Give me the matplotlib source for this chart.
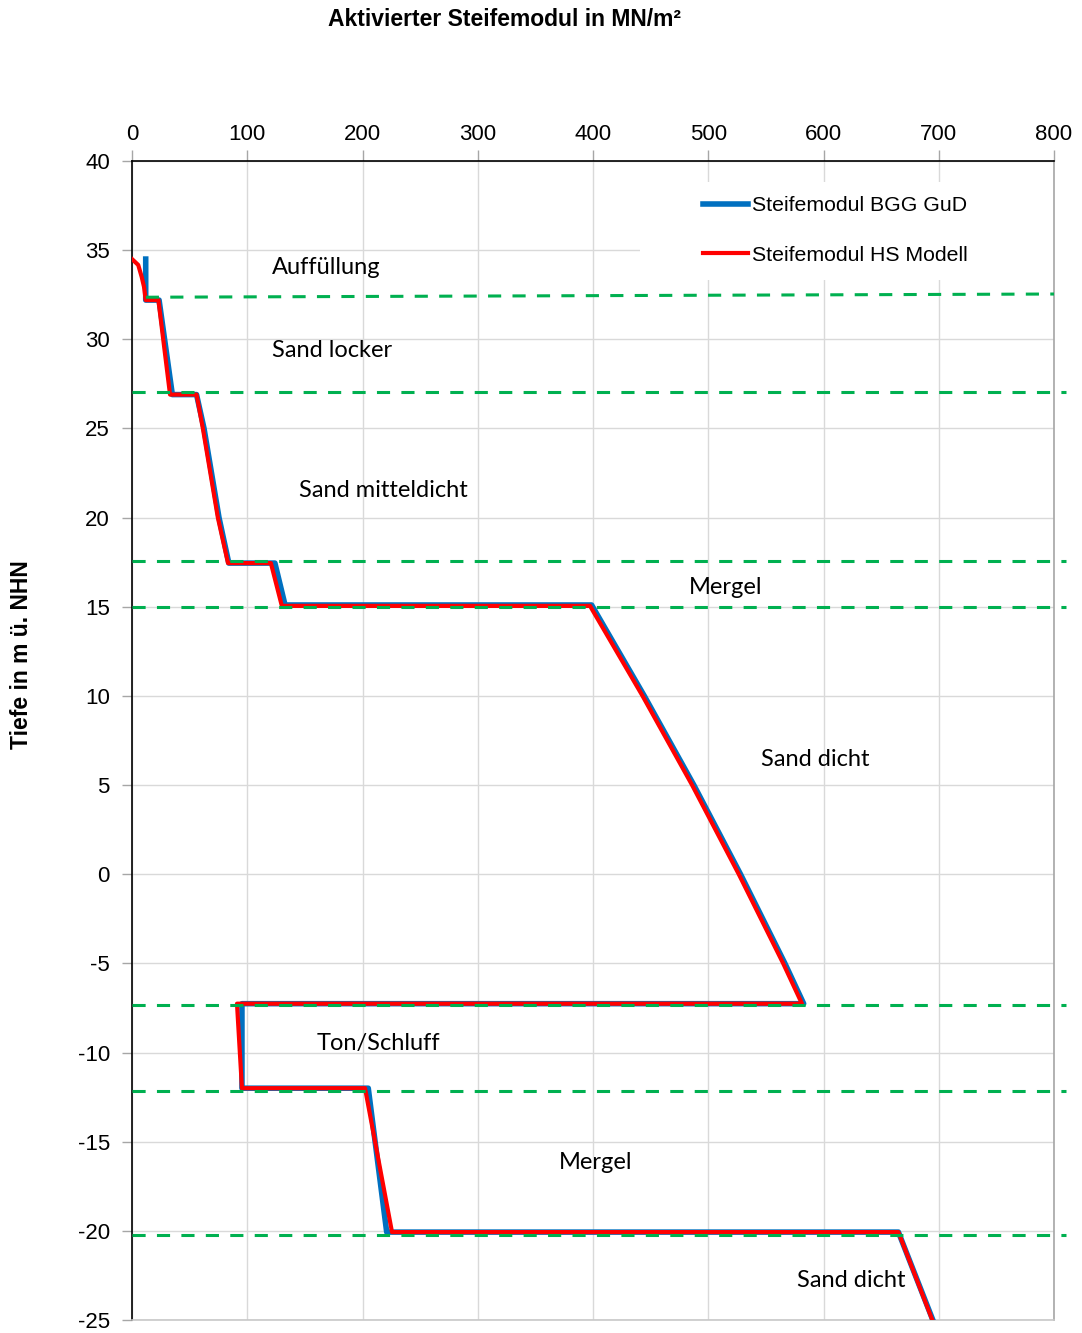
import numpy as np
import matplotlib.pyplot as plt
from matplotlib.patches import Rectangle

# Steifemodul (MN/m2) gegen Tiefe (m ü. NHN)
bgg_x = [11.9, 11.9, 23.5, 35.0, 56.0, 62.5, 75.5, 84.0, 124.0, 132.8, 398.8,
         444.5, 487.5, 528.0, 566.5, 582.8, 95.4, 95.4, 205.0, 221.0, 665.0, 698.5]
bgg_y = [34.5, 32.2, 32.2, 26.9, 26.9, 25.0, 20.0, 17.45, 17.45, 15.1, 15.1,
         10.0, 5.0, 0.0, -5.0, -7.26, -7.26, -12.0, -12.0, -20.07, -20.07, -25.6]

hs_x = [0.0, 5.4, 8.4, 10.4, 11.9, 22.9, 33.0, 56.0, 61.5, 74.5, 83.3, 120.5,
        130.0, 397.4, 443.0, 486.0, 526.5, 565.0, 581.3, 91.1, 95.4, 202.2,
        225.6, 665.0, 698.0]
hs_y = [34.5, 34.17, 33.5, 32.95, 32.2, 32.2, 26.9, 26.9, 25.0, 20.0, 17.45,
        17.45, 15.05, 15.05, 10.0, 5.0, 0.0, -5.0, -7.26, -7.26, -12.0, -12.0,
        -20.07, -20.07, -25.6]

# Schichtgrenzen
grenze_oben = ([12.0, 800.0], [32.36, 32.54])
grenzen = [27.06, 17.57, 15.0, -7.34, -12.16, -20.24]

schichten = ['Auffüllung', 'Sand locker', 'Sand mitteldicht', 'Mergel',
             'Sand dicht', 'Ton/Schluff', 'Mergel', 'Sand dicht']
schicht_x = [121.5, 121.5, 144.9, 483.3, 545.8, 160.5, 370.5, 577.0]
schicht_y = [34.05, 29.4, 21.5, 16.1, 6.45, -9.47, -16.15, -22.77]

plt.rcParams['font.family'] = ['Liberation Sans', 'DejaVu Sans']
plt.rcParams['axes.unicode_minus'] = False

fig = plt.figure(figsize=(10.82, 13.33), dpi=100)
ax = fig.add_axes([132 / 1082, 1 - 1320 / 1333, 922 / 1082, 1159 / 1333])

ax.set_xlim(0, 800)
ax.set_ylim(-25, 40)
ax.set_xticks(np.arange(0, 801, 100))
ax.set_yticks(np.arange(-25, 41, 5))
ax.xaxis.tick_top()
ax.tick_params(axis='x', length=8, width=1, color='#a6a6a6', pad=3.5, labelsize=16)
ax.tick_params(axis='y', length=7, width=1, color='#a6a6a6', pad=9, labelsize=16)
ax.grid(True, color='#d9d9d9', lw=1, zorder=0)
ax.set_axisbelow(True)

ax.spines['left'].set_color('black')
ax.spines['top'].set_color('black')
ax.spines['right'].set_color('#a6a6a6')
ax.spines['bottom'].set_color('#c8c8c8')
for s in ax.spines.values():
    s.set_linewidth(1.2)

# weisser Hintergrund der Legende
ax.add_patch(Rectangle((441, 33.33), 359, 5.5, facecolor='white',
                       edgecolor='none', zorder=1))

l1, = ax.plot(bgg_x, bgg_y, color='#0070c0', lw=4, zorder=3,
              label='Steifemodul BGG GuD')
l2, = ax.plot(hs_x, hs_y, color='#ff0000', lw=3, zorder=4,
              label='Steifemodul HS Modell')

ax.plot(*grenze_oben, color='#00b050', lw=2.2, dashes=(4.3, 3.7), zorder=5)
for g in grenzen:
    ax.plot([0, 810], [g, g], color='#00b050', lw=2.2, dashes=(4.3, 3.7),
            zorder=5, clip_on=False)

for t, x, y in zip(schichten, schicht_x, schicht_y):
    ax.text(x, y, t, fontsize=17, family=['Lato', 'DejaVu Sans'],
            va='center', ha='left', zorder=6)

leg = ax.legend(handles=[l1, l2], loc='upper left',
                bbox_to_anchor=((703 - 132) / 922, 1 - (196 - 161) / 1159),
                frameon=False, fontsize=15.3, handlelength=2.1,
                handletextpad=0.2, labelspacing=1.45, borderpad=0,
                borderaxespad=0)

fig.text(505 / 1082, 1 - 19 / 1333, 'Aktivierter Steifemodul in MN/m²',
         fontsize=16.5, fontweight='bold', ha='center', va='center')
fig.text(22 / 1082, 1 - 655 / 1333, 'Tiefe in m ü. NHN', fontsize=16.5,
         fontweight='bold', rotation=90, ha='center', va='center')

fig.savefig('out.png', dpi=100, facecolor='white')
